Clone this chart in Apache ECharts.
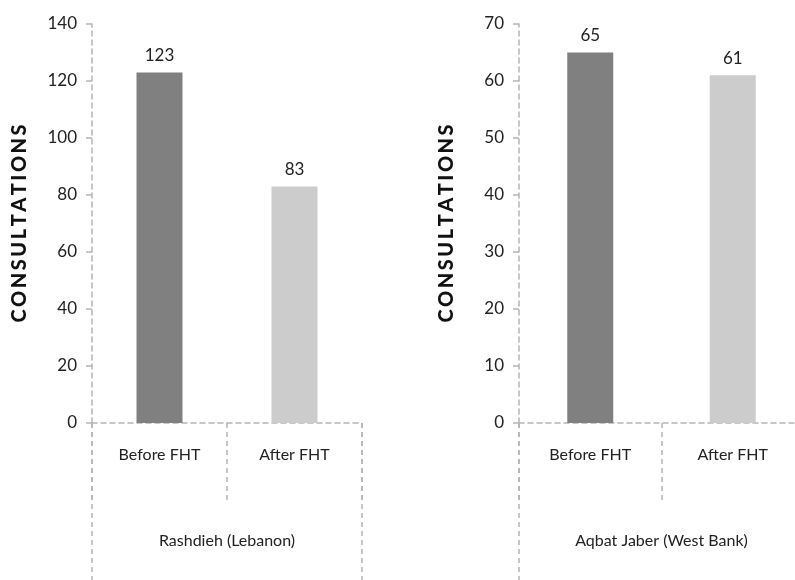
<!DOCTYPE html>
<html>
<head>
<meta charset="utf-8">
<script src="https://cdn.jsdelivr.net/npm/echarts@6/dist/echarts.min.js"></script>
<style>
  html, body { margin: 0; padding: 0; background: #fff; }
  #chart { width: 795px; height: 580px; }
</style>
</head>
<body>
<div id="chart"></div>
<script>
// Consultations before and after FHT at two sites
const periods = ['Before FHT', 'After FHT'];
const sites = ['Rashdieh (Lebanon)', 'Aqbat Jaber (West Bank)'];
const rashdiehValues = [123, 83];
const aqbatJaberValues = [65, 61];
const barColors = ['#808080', '#cccccc'];
const yTicksLeft = { min: 0, max: 140, interval: 20 };
const yTicksRight = { min: 0, max: 70, interval: 10 };
const yName = 'CONSULTATIONS';

const FONT = 'Lato, "Open Sans", sans-serif';
const LINE = '#b5b5b5';
const spaced = yName.split('').join('\u2009');

function yAxis(grid, ticks) {
  return {
    type: 'value', gridIndex: grid,
    min: ticks.min, max: ticks.max, interval: ticks.interval,
    name: spaced, nameLocation: 'middle', nameGap: 62, nameRotate: 90,
    nameTextStyle: { fontFamily: FONT, fontSize: 20, fontWeight: 900, color: '#111' },
    axisLine: { show: true, lineStyle: { color: LINE, type: [5, 4], width: 1.5 } },
    axisTick: { show: true, length: 6, lineStyle: { color: LINE, width: 1.5 } },
    splitLine: { show: false },
    axisLabel: { fontFamily: FONT, fontSize: 17, color: '#222', margin: 15 }
  };
}

function xAxes(grid, site) {
  return [
    {
      type: 'category', gridIndex: grid, data: periods, position: 'bottom',
      axisLine: { show: true, lineStyle: { color: LINE, type: [5, 4], width: 1.5 } },
      axisTick: { show: true, interval: 0, alignWithLabel: false, length: 79,
        lineStyle: { color: LINE, type: [5, 4], width: 1.5 } },
      axisLabel: { fontFamily: FONT, fontSize: 16, color: '#222', margin: 24, interval: 0 }
    },
    {
      type: 'category', gridIndex: grid, data: [site], position: 'bottom',
      axisLine: { show: false },
      axisTick: { show: true, interval: 0, alignWithLabel: false, length: 160,
        lineStyle: { color: LINE, type: [5, 4], width: 1.5 } },
      axisLabel: { fontFamily: FONT, fontSize: 16, color: '#222', margin: 110 }
    }
  ];
}

function barSeries(xIdx, yIdx, values) {
  return {
    type: 'bar', xAxisIndex: xIdx, yAxisIndex: yIdx, barWidth: 46,
    data: values.map((v, i) => ({ value: v, itemStyle: { color: barColors[i] } })),
    label: { show: true, position: 'top', distance: 8, fontFamily: FONT, fontSize: 17, color: '#222' }
  };
}

const chart = echarts.init(document.getElementById('chart'), null, { renderer: 'canvas' });
chart.setOption({
  animation: false,
  grid: [
    { left: 92, top: 24, width: 270, height: 399, outerBoundsMode: 'none' },
    { left: 519, top: 24, width: 285, height: 399, outerBoundsMode: 'none' }
  ],
  xAxis: [...xAxes(0, sites[0]), ...xAxes(1, sites[1])],
  yAxis: [yAxis(0, yTicksLeft), yAxis(1, yTicksRight)],
  series: [barSeries(0, 0, rashdiehValues), barSeries(2, 1, aqbatJaberValues)]
});
</script>
</body>
</html>
